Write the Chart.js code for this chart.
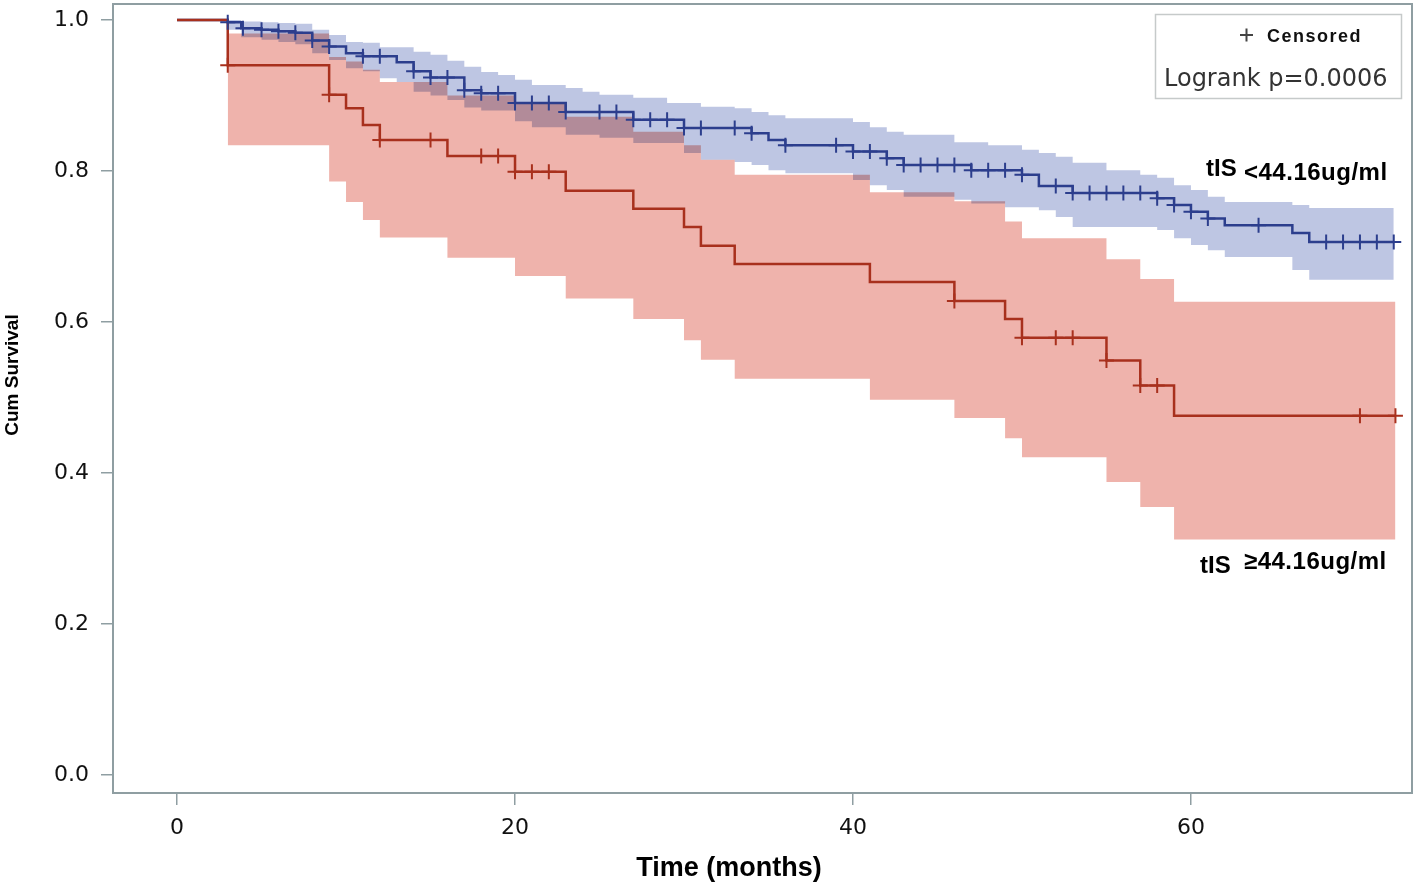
<!DOCTYPE html>
<html>
<head>
<meta charset="utf-8">
<script src="https://cdn.jsdelivr.net/npm/chart.js@4.4.1/dist/chart.umd.min.js"></script>
<style>
html,body{margin:0;padding:0;background:#ffffff;}
#wrap{width:1416px;height:884px;position:relative;}
</style>
</head>
<body>
<div id="wrap"><canvas id="c" width="1416" height="884"></canvas></div>
<script>
// ---- tick labels ----
const xTicks = [0, 20, 40, 60];
const yTicks = [0.0, 0.2, 0.4, 0.6, 0.8, 1.0];

// ---- group tIS <44.16ug/ml (blue) ----
const lowTimes = [0, 3, 3.8, 5, 6, 7, 8, 9, 10, 11, 13, 14, 15, 17, 18, 20, 23, 27, 30, 34, 35, 36, 40, 42, 43, 47, 50, 51, 53, 58, 59, 60, 61, 62, 66, 67, 72];
const lowSurv  = [1.000, 0.997, 0.989, 0.987, 0.985, 0.983, 0.973, 0.965, 0.956, 0.952, 0.944, 0.932, 0.924, 0.907, 0.903, 0.890, 0.878, 0.868, 0.857, 0.850, 0.841, 0.834, 0.826, 0.817, 0.808, 0.801, 0.795, 0.780, 0.771, 0.764, 0.755, 0.746, 0.737, 0.728, 0.718, 0.706, 0.706];
const lowBandTimes = [3, 3.8, 5, 6, 7, 8, 9, 10, 11, 12, 13, 14, 15, 16, 17, 18, 19, 20, 21, 23, 24, 25, 27, 29, 30, 31, 33, 34, 35, 36, 40, 41, 42, 43, 46, 47, 48, 49, 50, 51, 52, 53, 55, 57, 58, 59, 60, 61, 62, 66, 67, 72];
const lowUpper = [1.000, 0.998, 0.997, 0.996, 0.995, 0.987, 0.980, 0.971, 0.970, 0.964, 0.964, 0.958, 0.954, 0.946, 0.938, 0.931, 0.927, 0.921, 0.914, 0.910, 0.905, 0.901, 0.897, 0.890, 0.890, 0.885, 0.883, 0.878, 0.874, 0.870, 0.865, 0.858, 0.852, 0.848, 0.838, 0.838, 0.834, 0.834, 0.828, 0.824, 0.819, 0.811, 0.801, 0.795, 0.791, 0.781, 0.775, 0.766, 0.759, 0.755, 0.751, 0.751];
const lowLower = [0.987, 0.977, 0.974, 0.971, 0.968, 0.956, 0.947, 0.936, 0.932, 0.923, 0.918, 0.905, 0.900, 0.894, 0.884, 0.880, 0.880, 0.866, 0.858, 0.848, 0.848, 0.844, 0.837, 0.837, 0.824, 0.815, 0.812, 0.808, 0.801, 0.797, 0.788, 0.781, 0.775, 0.766, 0.762, 0.757, 0.757, 0.752, 0.752, 0.748, 0.739, 0.726, 0.726, 0.726, 0.722, 0.711, 0.702, 0.695, 0.686, 0.669, 0.656, 0.656];
const lowCensor = [3, 3.9, 5, 6, 7, 8, 9, 11, 12, 14, 15, 16, 17, 18, 19, 20, 21, 22, 23, 25, 26, 27, 28, 29, 30, 31, 33, 34, 36, 39, 40, 41, 42, 43, 44, 45, 46, 47, 48, 49, 50, 52, 53, 54, 55, 56, 57, 58, 59, 60, 61, 64, 68, 69, 70, 71, 72];

// ---- group tIS >=44.16ug/ml (red) ----
const highTimes = [0, 3, 9, 10, 11, 12, 16, 20, 23, 27, 30, 31, 33, 41, 46, 49, 50, 55, 57, 59, 72.1];
const highSurv  = [1.000, 0.940, 0.901, 0.883, 0.861, 0.841, 0.820, 0.799, 0.774, 0.750, 0.726, 0.701, 0.677, 0.653, 0.628, 0.604, 0.579, 0.549, 0.516, 0.476, 0.476];
const highBandTimes = [3, 9, 10, 11, 12, 16, 20, 23, 27, 30, 31, 33, 41, 46, 49, 50, 55, 57, 59, 72.1];
const highUpper = [0.982, 0.951, 0.945, 0.934, 0.918, 0.900, 0.891, 0.872, 0.852, 0.834, 0.815, 0.795, 0.772, 0.760, 0.733, 0.711, 0.683, 0.657, 0.627, 0.627];
const highLower = [0.834, 0.786, 0.759, 0.735, 0.712, 0.685, 0.661, 0.631, 0.604, 0.576, 0.550, 0.525, 0.497, 0.473, 0.446, 0.421, 0.388, 0.355, 0.312, 0.312];
const highCensor = [3, 9, 12, 15, 18, 19, 20, 21, 22, 46, 50, 52, 53, 55, 57, 58, 70, 72.1];

// ---- helpers ----
function toXY(ts, ys) { return ts.map((t, i) => ({x: t, y: ys[i]})); }
function stepValue(ts, ys, t) {
  let v = ys[0];
  for (let i = 0; i < ts.length; i++) { if (ts[i] <= t + 1e-9) v = ys[i]; }
  return v;
}
function censorXY(cs, ts, ys) { return cs.map(t => ({x: t, y: stepValue(ts, ys, t)})); }

const BLUE = '#2c3e8d';
const RED = '#a8301d';
const BLUE_BAND = '#bec6e3';
const RED_BAND = '#efb3ac';

// bands blended like the reference (overlap gets darker)
const blendPlugin = {
  id: 'blend',
  beforeDatasetsDraw(chart) { chart.ctx.save(); chart.ctx.globalCompositeOperation = 'multiply'; },
  beforeDatasetDraw(chart) { chart.ctx.globalCompositeOperation = 'source-over'; },
  afterDatasetDraw(chart) { chart.ctx.globalCompositeOperation = 'multiply'; },
  afterDatasetsDraw(chart) { chart.ctx.globalCompositeOperation = 'source-over'; chart.ctx.restore(); }
};

const decorPlugin = {
  id: 'decor',
  afterDraw(chart) {
    const ctx = chart.ctx;
    const a = chart.chartArea;
    ctx.save();
    // plot frame
    ctx.strokeStyle = '#8f9ea2';
    ctx.lineWidth = 2;
    ctx.strokeRect(a.left, a.top, a.right - a.left, a.bottom - a.top);
    // inset legend box
    ctx.strokeStyle = '#c6caca';
    ctx.lineWidth = 1.5;
    ctx.strokeRect(1155.5, 14.5, 246, 84);
    ctx.strokeStyle = '#444';
    ctx.lineWidth = 2;
    ctx.beginPath();
    ctx.moveTo(1240, 35); ctx.lineTo(1253, 35);
    ctx.moveTo(1246.5, 28.5); ctx.lineTo(1246.5, 41.5);
    ctx.stroke();
    ctx.fillStyle = '#111';
    ctx.textBaseline = 'alphabetic';
    ctx.textAlign = 'left';
    ctx.font = 'bold 18px "Liberation Sans", Arial, sans-serif';
    ctx.letterSpacing = '1.5px';
    ctx.fillText('Censored', 1267, 42);
    ctx.letterSpacing = '0px';
    ctx.fillStyle = '#333';
    ctx.font = '24px "DejaVu Sans", sans-serif';
    ctx.fillText('Logrank p=0.0006', 1164, 86);
    // group labels
    ctx.fillStyle = '#000';
    ctx.font = 'bold 24px "Liberation Sans", Arial, sans-serif';
    ctx.fillText('tIS', 1206, 176);
    ctx.fillText('tIS', 1200, 573);
    ctx.letterSpacing = '0.5px';
    ctx.fillText('<44.16ug/ml', 1244, 180);
    ctx.fillText('\u226544.16ug/ml', 1244, 569);
    ctx.letterSpacing = '0px';
    // axis titles
    ctx.fillStyle = '#000';
    ctx.textAlign = 'center';
    ctx.font = 'bold 27px "Liberation Sans", Arial, sans-serif';
    ctx.fillText('Time (months)', 729, 876);
    ctx.save();
    ctx.translate(18, 375);
    ctx.rotate(-Math.PI / 2);
    ctx.font = 'bold 19px "Liberation Sans", Arial, sans-serif';
    ctx.fillText('Cum Survival', 0, 0);
    ctx.restore();
    ctx.restore();
  }
};

const stepLine = (label, data, color, order) => ({
  label, data, borderColor: color, borderWidth: 2.5, stepped: true,
  pointRadius: 0, fill: false, order
});
const bandEdge = (label, data, fill, color, order) => ({
  label, data, borderWidth: 0, borderColor: 'rgba(0,0,0,0)', stepped: true,
  pointRadius: 0, fill, backgroundColor: color, order
});
const censorSet = (label, data, color, order) => ({
  label, data, showLine: false, pointStyle: 'cross', pointRadius: 7.5,
  pointBorderWidth: 2, pointBorderColor: color, borderColor: color, order
});

new Chart(document.getElementById('c'), {
  type: 'line',
  data: {
    datasets: [
      bandEdge('low upper', toXY(lowBandTimes, lowUpper), '+1', BLUE_BAND, 10),
      bandEdge('low lower', toXY(lowBandTimes, lowLower), false, BLUE_BAND, 10),
      bandEdge('high upper', toXY(highBandTimes, highUpper), '+1', RED_BAND, 9),
      bandEdge('high lower', toXY(highBandTimes, highLower), false, RED_BAND, 9),
      stepLine('tIS <44.16ug/ml', toXY(lowTimes, lowSurv), BLUE, 5),
      stepLine('tIS \u226544.16ug/ml', toXY(highTimes, highSurv), RED, 4),
      censorSet('Censored low', censorXY(lowCensor, lowTimes, lowSurv), BLUE, 2),
      censorSet('Censored high', censorXY(highCensor, highTimes, highSurv), RED, 1)
    ]
  },
  options: {
    responsive: false,
    animation: false,
    events: [],
    layout: { autoPadding: false, padding: { left: 0, right: 4, top: 4, bottom: 0 } },
    plugins: { legend: { display: false }, tooltip: { enabled: false } },
    scales: {
      x: {
        type: 'linear',
        min: -3.79, max: 73.08,
        afterBuildTicks: s => { s.ticks = xTicks.map(v => ({value: v})); },
        afterFit: s => { s.height = 91; s.paddingLeft = 0; s.paddingRight = 0; },
        border: { display: false },
        grid: { display: true, drawOnChartArea: false, drawTicks: true, tickLength: 12, color: '#8f9ea2', lineWidth: 1.5 },
        ticks: { autoSkip: false, maxRotation: 0, padding: 10, color: '#111',
                 font: { family: '"DejaVu Sans", sans-serif', size: 22 },
                 callback: v => String(v) }
      },
      y: {
        type: 'linear',
        min: -0.0238, max: 1.0212,
        afterBuildTicks: s => { s.ticks = yTicks.map(v => ({value: v})); },
        afterFit: s => { s.width = 113; s.paddingTop = 0; s.paddingBottom = 0; },
        border: { display: false },
        grid: { display: true, drawOnChartArea: false, drawTicks: true, tickLength: 12, color: '#8f9ea2', lineWidth: 1.5 },
        ticks: { autoSkip: false, padding: 12, color: '#111',
                 font: { family: '"DejaVu Sans", sans-serif', size: 22 },
                 callback: v => Number(v).toFixed(1) }
      }
    }
  },
  plugins: [blendPlugin, decorPlugin]
});
</script>
</body>
</html>
